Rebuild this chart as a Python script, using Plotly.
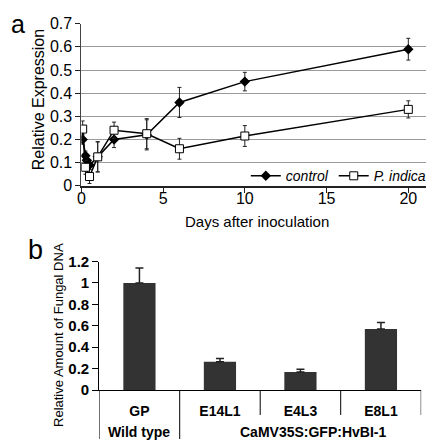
import plotly.graph_objects as go

# ---- panel a data ----
control_days = [0.08, 0.25, 0.33, 0.5, 1, 2, 4, 6, 10, 20]
control_vals = [0.20, 0.13, 0.11, 0.09, 0.125, 0.20, 0.22, 0.36, 0.45, 0.59]
control_err = [0.02, 0.02, 0.02, 0.02, 0.065, 0.035, 0.065, 0.065, 0.04, 0.047]

indica_days = [0.08, 0.25, 0.5, 1, 2, 4, 6, 10, 20]
indica_vals = [0.245, 0.08, 0.04, 0.125, 0.24, 0.225, 0.16, 0.215, 0.33]
indica_err = [0.035, 0.03, 0.03, 0.065, 0.035, 0.065, 0.045, 0.045, 0.037]

x_ticks_a = [0, 5, 10, 15, 20]

# ---- panel b data ----
lines = ["GP", "E14L1", "E4L3", "E8L1"]
fungal_vals = [1.0, 0.265, 0.17, 0.57]
fungal_err = [0.14, 0.03, 0.025, 0.06]
group_labels = ["Wild type", "CaMV35S:GFP:HvBI-1"]

FONT = "Liberation Sans, Arial, sans-serif"
W, H = 434, 440

fig = go.Figure()

fig.add_trace(go.Scatter(
    x=control_days, y=control_vals, name="control", mode="lines+markers",
    line=dict(color="black", width=1.5),
    marker=dict(symbol="diamond", size=8, color="black"),
    error_y=dict(type="data", array=control_err, color="#222", thickness=1, width=2),
    xaxis="x", yaxis="y"))
fig.add_trace(go.Scatter(
    x=indica_days, y=indica_vals, name="P. indica", mode="lines+markers",
    line=dict(color="black", width=1.5),
    marker=dict(symbol="square", size=8, color="white", line=dict(color="black", width=1)),
    error_y=dict(type="data", array=indica_err, color="#222", thickness=1, width=2),
    xaxis="x", yaxis="y"))

fig.add_trace(go.Bar(
    x=lines, y=fungal_vals, width=0.4, marker=dict(color="#333333", line=dict(width=0)),
    error_y=dict(type="data", array=fungal_err, arrayminus=[0] * 4, symmetric=False,
                 color="#222", thickness=1.5, width=4),
    showlegend=False, xaxis="x2", yaxis="y2"))

fig.update_layout(
    width=W, height=H, margin=dict(l=0, r=0, t=0, b=0),
    paper_bgcolor="white", plot_bgcolor="white",
    font=dict(family=FONT, color="black", size=14),
    showlegend=True,
    legend=dict(orientation="h", x=236 / W, xanchor="left", y=1 - 166 / H, yanchor="middle",
                font=dict(size=14, style="italic"), bgcolor="rgba(0,0,0,0)",
                itemwidth=30, tracegroupgap=0),
    xaxis=dict(domain=[70 / W, 433 / W], range=[0, 22], tickvals=x_ticks_a,
               ticks="outside", ticklen=5, tickcolor="#222", showline=True, linewidth=2,
               linecolor="#222", showgrid=False, zeroline=False, anchor="y",
               ticklabelstandoff=-8, tickfont=dict(size=16)),
    yaxis=dict(domain=[1 - 176 / H, 1 - 7 / H], range=[0, 0.7], dtick=0.1,
               ticks="outside", ticklen=5, tickcolor="#222", showline=True, linewidth=1,
               linecolor="#444", mirror=True, showgrid=True, gridcolor="#9a9a9a",
               zeroline=False, anchor="x", tickfont=dict(size=16)),
    xaxis2=dict(domain=[88 / W, 413 / W], range=[-0.5, 3.5], type="category",
                showline=True, linewidth=1, linecolor="black", ticks="",
                ticklabelstandoff=8,
                tickfont=dict(size=14, weight="bold"), anchor="y2", showgrid=False),
    yaxis2=dict(domain=[1 - 389 / H, 1 - 255 / H], range=[0, 1.2], dtick=0.2,
                ticks="outside", ticklen=6, tickcolor="black", showline=True, linewidth=1,
                linecolor="black", showgrid=False, zeroline=False, anchor="x2",
                tickfont=dict(size=15, weight="bold")),
)

# axis titles
fig.add_annotation(x=27 / W, y=1 - 86 / H, xref="paper", yref="paper", text="Relative Expression",
                   textangle=-90, showarrow=False, font=dict(size=16),
                   xanchor="center", yanchor="middle")
fig.add_annotation(x=247 / W, y=1 - 213 / H, xref="paper", yref="paper",
                   text="Days after inoculation", showarrow=False, font=dict(size=15),
                   xanchor="center", yanchor="middle")
fig.add_annotation(x=47 / W, y=1 - 332 / H, xref="paper", yref="paper",
                   text="Relative Amount of Fungal DNA", textangle=-90, showarrow=False,
                   font=dict(size=13), xanchor="center", yanchor="middle")

# category table lines for panel b
y_axis_b = 1 - 389 / H
for xv, y_end in [(-0.5, 0), (0.5, 0), (1.5, 1 - 415 / H), (2.5, 1 - 415 / H), (3.5, 1 - 415 / H)]:
    fig.add_shape(type="line", xref="x2", yref="paper", x0=xv, x1=xv, y0=y_axis_b, y1=y_end,
                  line=dict(color="black", width=1))

fig.add_annotation(x=0, y=1 - 433 / H, xref="x2", yref="paper", text=group_labels[0],
                   showarrow=False, font=dict(size=14, weight="bold"), yanchor="middle")
fig.add_annotation(x=2.15, y=1 - 433 / H, xref="x2", yref="paper", text=group_labels[1],
                   showarrow=False, font=dict(size=14, weight="bold"), yanchor="middle")

# panel letters
fig.add_annotation(x=0, y=1.0, xref="paper", yref="paper", text="a", showarrow=False,
                   xanchor="left", yanchor="top", font=dict(size=25), xshift=-3, yshift=9)
fig.add_annotation(x=14 / W, y=1 - 225 / H, xref="paper", yref="paper", text="b",
                   showarrow=False, xanchor="left", yanchor="top", font=dict(size=27))

fig.write_html("out.html")
